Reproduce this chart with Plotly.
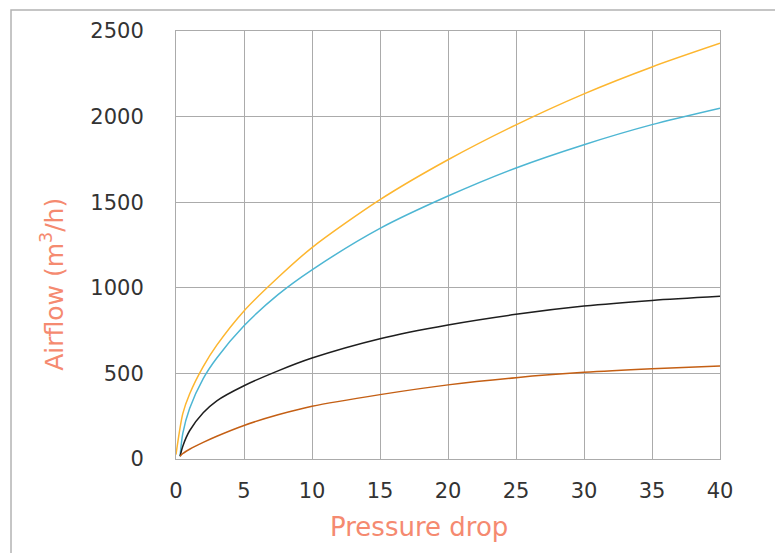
import plotly.graph_objects as go

# pressure drop readings (x) for each curve
pressure_y = [0, 0.5, 1, 2, 3, 5, 7.5, 10, 15, 20, 25, 30, 35, 40]
pressure = [0.3, 0.5, 1, 2, 3, 5, 7.5, 10, 15, 20, 25, 30, 35, 40]

# airflow values (m3/h)
airflow_yellow = [26, 265, 380, 540, 665, 865, 1060, 1235, 1515, 1748, 1952, 2133, 2290, 2428]
airflow_cyan = [16, 150, 295, 470, 590, 778, 960, 1105, 1347, 1536, 1700, 1836, 1953, 2049]
airflow_black = [16, 75, 165, 270, 340, 428, 515, 590, 703, 783, 845, 893, 926, 950]
airflow_orange = [16, 32, 57, 97, 133, 196, 258, 308, 376, 433, 475, 506, 527, 543]

x_ticks = [0, 5, 10, 15, 20, 25, 30, 35, 40]
y_ticks = [0, 500, 1000, 1500, 2000, 2500]

font = "DejaVu Sans"
title_color = "#F58A70"
grid = "#ababab"


def curve(x, y, color):
    return go.Scatter(x=x, y=y, mode="lines",
                      line=dict(color=color, width=1.5, shape="spline", smoothing=0.8))


fig = go.Figure()
fig.add_trace(curve(pressure_y, airflow_yellow, "#FDB62F"))
fig.add_trace(curve(pressure, airflow_cyan, "#4DB6D3"))
fig.add_trace(curve(pressure, airflow_black, "#1e1e1e"))
fig.add_trace(curve(pressure, airflow_orange, "#C45F14"))

fig.update_xaxes(range=[0, 40], tickvals=x_ticks, showgrid=True, gridcolor=grid, gridwidth=1,
                 showline=True, linecolor=grid, linewidth=1, mirror=True, zeroline=False,
                 ticklabelstandoff=13, tickfont=dict(family=font, size=21, color="#333333"))
fig.update_yaxes(range=[0, 2500], tickvals=y_ticks, showgrid=True, gridcolor=grid, gridwidth=1,
                 showline=True, linecolor=grid, linewidth=1, mirror=True, zeroline=False,
                 ticklabelstandoff=27, tickfont=dict(family=font, size=21, color="#333333"))

fig.add_annotation(text="Airflow (m<sup>3</sup>/h)", xref="paper", yref="paper",
                   x=-0.226, y=0.407, xanchor="center", yanchor="middle",
                   textangle=-90, showarrow=False,
                   font=dict(family=font, size=25, color=title_color))
fig.add_annotation(text="Pressure drop", xref="paper", yref="paper",
                   x=0.447, y=-0.159, xanchor="center", yanchor="middle", showarrow=False,
                   font=dict(family=font, size=26, color=title_color))

# outer frame around the whole chart
fig.add_shape(type="rect", xref="paper", yref="paper",
              x0=-0.3033, x1=1.1121, y0=-0.25, y1=1.049,
              line=dict(color="#b3b3b3", width=1.5))

# page body keeps an 8px margin, so the figure is a bit smaller than the window
fig.update_layout(
    width=775,
    height=545,
    showlegend=False,
    plot_bgcolor="white",
    paper_bgcolor="white",
    margin=dict(l=168, r=63, t=23, b=94),
)

fig.write_html("out.html")
